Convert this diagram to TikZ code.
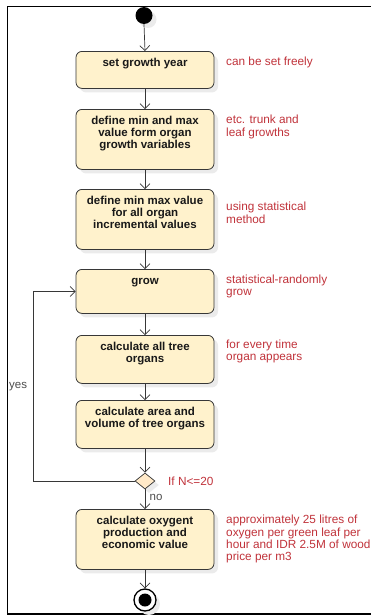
\documentclass[tikz,border=0pt]{standalone}
\usepackage{fontspec}
\setmainfont{Liberation Sans}
\usetikzlibrary{arrows.meta,shapes.geometric,shadows}

\definecolor{actfill}{RGB}{255,242,204}
\definecolor{notered}{RGB}{192,50,58}
\definecolor{linegray}{RGB}{55,55,55}

\begin{document}
\begin{tikzpicture}[
    x=1pt, y=-1pt,
    shade/.style={drop shadow={shadow xshift=4pt, shadow yshift=-4pt, fill=black!8, opacity=1}},
    act/.style={draw=linegray, rounded corners=6pt, fill=actfill, line width=0.8pt, minimum width=138pt, minimum height=#1, inner sep=0pt, anchor=north, shade},
    acttext/.style={font=\fontsize{11.5}{12}\selectfont\bfseries, text=black!90, align=center, anchor=north, inner sep=0pt, yshift=-7pt},
    note/.style={font=\fontsize{11.8}{12}\selectfont, text=notered, align=left, anchor=north west, inner sep=0pt},
    guard/.style={font=\fontsize{11.5}{12}\selectfont, text=black!70, inner sep=0pt, anchor=base west},
    decision/.style={diamond, draw=linegray, fill=actfill!80!orange!60, line width=0.7pt, minimum width=20pt, minimum height=16pt, inner sep=0pt, shade},
    flow/.style={-{Straight Barb[length=5pt,width=10pt]}, linegray, line width=0.7pt}
  ]
    \useasboundingbox (0,0) rectangle (370,616);

    % frame
    \draw[line width=1.4pt] (372,6.5) -- (7.5,6.5) -- (7.5,614) -- (372,614);

    % start / end
    \node[circle, fill=black, minimum size=17pt, inner sep=0pt, shade] (start) at (144,15.5) {};
    \node[circle, draw=black, line width=1.3pt, fill=white, minimum size=22pt, inner sep=0pt, shade] (stop) at (145,600) {};
    \node[circle, fill=black, minimum size=13pt, inner sep=0pt] (stopdot) at (stop.center) {};

    % actions
    \node[act=37pt] (year) at (145,51) {};
    \node[acttext] (yeartext) at (year.north) {\strut set growth year};

    \node[act=60pt] (range) at (145,109) {};
    \node[acttext] (rangetext) at (range.north) {\strut define min and max\\value form organ\\growth variables};

    \node[act=60pt] (incr) at (145,189) {};
    \node[acttext] (incrtext) at (incr.north) {\strut define min max value\\for all organ\\incremental values};

    \node[act=44pt] (grow) at (145,269) {};
    \node[acttext] (growtext) at (grow.north) {\strut grow};

    \node[act=48pt] (organs) at (145,335) {};
    \node[acttext] (organstext) at (organs.north) {\strut calculate all tree\\organs};

    \node[act=48pt] (area) at (145,400) {};
    \node[acttext] (areatext) at (area.north) {\strut calculate area and\\volume of tree organs};

    \node[decision] (check) at (145,481) {};

    \node[act=60pt] (oxy) at (145,509) {};
    \node[acttext] (oxytext) at (oxy.north) {\strut calculate oxygent\\production and\\economic value};

    % notes
    \node[note] (yearnote) at (226,56.6) {\strut can be set freely};
    \node[note] (rangenote) at (226,114.6) {\strut etc. trunk and\\leaf growths};
    \node[note] (incrnote) at (226,201.6) {\strut using statistical\\method};
    \node[note] (grownote) at (226,274.6) {\strut statistical-randomly\\grow};
    \node[note] (organsnote) at (226,339.6) {\strut for every time\\organ appears};
    \node[note, anchor=base west] (checknote) at (168,485.5) {If N<=20};
    \node[note] (oxynote) at (226,514.6) {\strut approximately 25 litres of\\oxygen per green leaf per\\hour and IDR 2.5M of wood\\price per m3};

    % connectors
    \draw[flow] (start.south) -- (year.north);
    \draw[flow] (year.south) -- (range.north);
    \draw[flow] (range.south) -- (incr.north);
    \draw[flow] (incr.south) -- (grow.north);
    \draw[flow] (grow.south) -- (organs.north);
    \draw[flow] (organs.south) -- (area.north);
    \draw[flow] (area.south) -- (check.north);
    \draw[flow] (check.south) -- (oxy.north);
    \draw[flow] (oxy.south) -- (stop.north);

    \coordinate (loopturn) at (33,481);
    \draw[flow] (check.west) -- (loopturn) |- (grow.west);

    % guards
    \node[guard] (yes) at (9,388) {yes};
    \node[guard] (no) at (149.5,500) {no};
  \end{tikzpicture}
\end{document}
